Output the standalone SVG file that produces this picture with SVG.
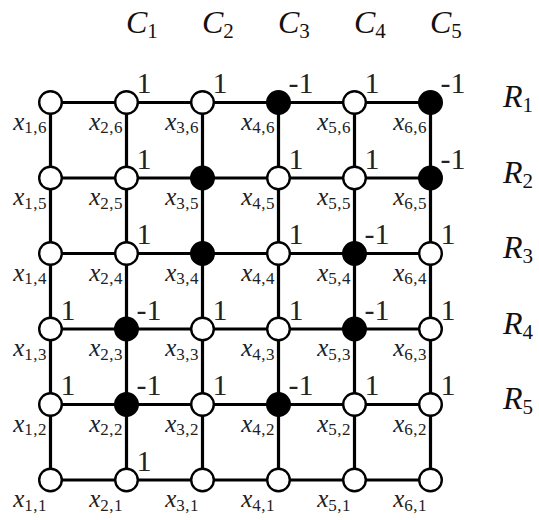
<svg xmlns="http://www.w3.org/2000/svg" width="539" height="520" viewBox="0 0 539 520">
  <style>
    .edge { stroke: #000; stroke-width: 3.2; fill: none; }
    .v { fill: #fff; stroke: #000; stroke-width: 2.4; }
    .v.on { fill: #000; }
    .var { font-family: "Liberation Serif", serif; font-style: italic; font-size: 25px; fill: #222; text-anchor: end; }
    .var tspan.s { font-style: normal; font-size: 17px; letter-spacing: 0.5px; }
    .w { font-family: "Liberation Serif", serif; font-size: 30px; fill: #222; }
    .hdr { font-family: "Liberation Serif", serif; font-style: italic; font-size: 32px; fill: #111; }
    .hdr tspan.s { font-style: normal; font-size: 21px; }
  </style>

  <!-- column and row headers -->
  <g id="headers">
    <text class="hdr" x="126" y="33">C<tspan class="s" dy="5">1</tspan></text>
    <text class="hdr" x="202" y="33">C<tspan class="s" dy="5">2</tspan></text>
    <text class="hdr" x="278" y="33">C<tspan class="s" dy="5">3</tspan></text>
    <text class="hdr" x="354" y="33">C<tspan class="s" dy="5">4</tspan></text>
    <text class="hdr" x="430" y="33">C<tspan class="s" dy="5">5</tspan></text>
    <text class="hdr" x="503" y="107">R<tspan class="s" dy="5">1</tspan></text>
    <text class="hdr" x="503" y="182.5">R<tspan class="s" dy="5">2</tspan></text>
    <text class="hdr" x="503" y="258">R<tspan class="s" dy="5">3</tspan></text>
    <text class="hdr" x="503" y="333.5">R<tspan class="s" dy="5">4</tspan></text>
    <text class="hdr" x="503" y="409">R<tspan class="s" dy="5">5</tspan></text>
  </g>

  <!-- grid edges -->
  <g id="connectors">
    <line class="edge" x1="50.5" y1="102.5" x2="430.5" y2="102.5"/>
    <line class="edge" x1="50.5" y1="178" x2="430.5" y2="178"/>
    <line class="edge" x1="50.5" y1="253.5" x2="430.5" y2="253.5"/>
    <line class="edge" x1="50.5" y1="329" x2="430.5" y2="329"/>
    <line class="edge" x1="50.5" y1="404.5" x2="430.5" y2="404.5"/>
    <line class="edge" x1="50.5" y1="480" x2="430.5" y2="480"/>
    <line class="edge" x1="50.5" y1="102.5" x2="50.5" y2="480"/>
    <line class="edge" x1="126.5" y1="102.5" x2="126.5" y2="480"/>
    <line class="edge" x1="202.5" y1="102.5" x2="202.5" y2="480"/>
    <line class="edge" x1="278.5" y1="102.5" x2="278.5" y2="480"/>
    <line class="edge" x1="354.5" y1="102.5" x2="354.5" y2="480"/>
    <line class="edge" x1="430.5" y1="102.5" x2="430.5" y2="480"/>
  </g>

  <!-- row j=6 -->
  <g id="x-1-6"><circle class="v" cx="50.5" cy="102.5" r="11.3"/><text class="var" x="47" y="129.5">x<tspan class="s" dy="3.5">1,6</tspan></text></g>
  <g id="x-2-6"><circle class="v" cx="126.5" cy="102.5" r="11.3"/><text class="var" x="123" y="129.5">x<tspan class="s" dy="3.5">2,6</tspan></text><text class="w" x="136.5" y="93">1</text></g>
  <g id="x-3-6"><circle class="v" cx="202.5" cy="102.5" r="11.3"/><text class="var" x="199" y="129.5">x<tspan class="s" dy="3.5">3,6</tspan></text><text class="w" x="212.5" y="93">1</text></g>
  <g id="x-4-6"><circle class="v on" cx="278.5" cy="102.5" r="11.3"/><text class="var" x="275" y="129.5">x<tspan class="s" dy="3.5">4,6</tspan></text><text class="w" x="288.5" y="93">-1</text></g>
  <g id="x-5-6"><circle class="v" cx="354.5" cy="102.5" r="11.3"/><text class="var" x="351" y="129.5">x<tspan class="s" dy="3.5">5,6</tspan></text><text class="w" x="364.5" y="93">1</text></g>
  <g id="x-6-6"><circle class="v on" cx="430.5" cy="102.5" r="11.3"/><text class="var" x="427" y="129.5">x<tspan class="s" dy="3.5">6,6</tspan></text><text class="w" x="440.5" y="93">-1</text></g>

  <!-- row j=5 -->
  <g id="x-1-5"><circle class="v" cx="50.5" cy="178" r="11.3"/><text class="var" x="47" y="205">x<tspan class="s" dy="3.5">1,5</tspan></text></g>
  <g id="x-2-5"><circle class="v" cx="126.5" cy="178" r="11.3"/><text class="var" x="123" y="205">x<tspan class="s" dy="3.5">2,5</tspan></text><text class="w" x="136.5" y="168.5">1</text></g>
  <g id="x-3-5"><circle class="v on" cx="202.5" cy="178" r="11.3"/><text class="var" x="199" y="205">x<tspan class="s" dy="3.5">3,5</tspan></text></g>
  <g id="x-4-5"><circle class="v" cx="278.5" cy="178" r="11.3"/><text class="var" x="275" y="205">x<tspan class="s" dy="3.5">4,5</tspan></text><text class="w" x="288.5" y="168.5">1</text></g>
  <g id="x-5-5"><circle class="v" cx="354.5" cy="178" r="11.3"/><text class="var" x="351" y="205">x<tspan class="s" dy="3.5">5,5</tspan></text><text class="w" x="364.5" y="168.5">1</text></g>
  <g id="x-6-5"><circle class="v on" cx="430.5" cy="178" r="11.3"/><text class="var" x="427" y="205">x<tspan class="s" dy="3.5">6,5</tspan></text><text class="w" x="440.5" y="168.5">-1</text></g>

  <!-- row j=4 -->
  <g id="x-1-4"><circle class="v" cx="50.5" cy="253.5" r="11.3"/><text class="var" x="47" y="280.5">x<tspan class="s" dy="3.5">1,4</tspan></text></g>
  <g id="x-2-4"><circle class="v" cx="126.5" cy="253.5" r="11.3"/><text class="var" x="123" y="280.5">x<tspan class="s" dy="3.5">2,4</tspan></text><text class="w" x="136.5" y="244">1</text></g>
  <g id="x-3-4"><circle class="v on" cx="202.5" cy="253.5" r="11.3"/><text class="var" x="199" y="280.5">x<tspan class="s" dy="3.5">3,4</tspan></text></g>
  <g id="x-4-4"><circle class="v" cx="278.5" cy="253.5" r="11.3"/><text class="var" x="275" y="280.5">x<tspan class="s" dy="3.5">4,4</tspan></text><text class="w" x="288.5" y="244">1</text></g>
  <g id="x-5-4"><circle class="v on" cx="354.5" cy="253.5" r="11.3"/><text class="var" x="351" y="280.5">x<tspan class="s" dy="3.5">5,4</tspan></text><text class="w" x="364.5" y="244">-1</text></g>
  <g id="x-6-4"><circle class="v" cx="430.5" cy="253.5" r="11.3"/><text class="var" x="427" y="280.5">x<tspan class="s" dy="3.5">6,4</tspan></text><text class="w" x="440.5" y="244">1</text></g>

  <!-- row j=3 -->
  <g id="x-1-3"><circle class="v" cx="50.5" cy="329" r="11.3"/><text class="var" x="47" y="356">x<tspan class="s" dy="3.5">1,3</tspan></text><text class="w" x="60.5" y="319.5">1</text></g>
  <g id="x-2-3"><circle class="v on" cx="126.5" cy="329" r="11.3"/><text class="var" x="123" y="356">x<tspan class="s" dy="3.5">2,3</tspan></text><text class="w" x="136.5" y="319.5">-1</text></g>
  <g id="x-3-3"><circle class="v" cx="202.5" cy="329" r="11.3"/><text class="var" x="199" y="356">x<tspan class="s" dy="3.5">3,3</tspan></text><text class="w" x="212.5" y="319.5">1</text></g>
  <g id="x-4-3"><circle class="v" cx="278.5" cy="329" r="11.3"/><text class="var" x="275" y="356">x<tspan class="s" dy="3.5">4,3</tspan></text><text class="w" x="288.5" y="319.5">1</text></g>
  <g id="x-5-3"><circle class="v on" cx="354.5" cy="329" r="11.3"/><text class="var" x="351" y="356">x<tspan class="s" dy="3.5">5,3</tspan></text><text class="w" x="364.5" y="319.5">-1</text></g>
  <g id="x-6-3"><circle class="v" cx="430.5" cy="329" r="11.3"/><text class="var" x="427" y="356">x<tspan class="s" dy="3.5">6,3</tspan></text><text class="w" x="440.5" y="319.5">1</text></g>

  <!-- row j=2 -->
  <g id="x-1-2"><circle class="v" cx="50.5" cy="404.5" r="11.3"/><text class="var" x="47" y="431.5">x<tspan class="s" dy="3.5">1,2</tspan></text><text class="w" x="60.5" y="395">1</text></g>
  <g id="x-2-2"><circle class="v on" cx="126.5" cy="404.5" r="11.3"/><text class="var" x="123" y="431.5">x<tspan class="s" dy="3.5">2,2</tspan></text><text class="w" x="136.5" y="395">-1</text></g>
  <g id="x-3-2"><circle class="v" cx="202.5" cy="404.5" r="11.3"/><text class="var" x="199" y="431.5">x<tspan class="s" dy="3.5">3,2</tspan></text><text class="w" x="212.5" y="395">1</text></g>
  <g id="x-4-2"><circle class="v on" cx="278.5" cy="404.5" r="11.3"/><text class="var" x="275" y="431.5">x<tspan class="s" dy="3.5">4,2</tspan></text><text class="w" x="288.5" y="395">-1</text></g>
  <g id="x-5-2"><circle class="v" cx="354.5" cy="404.5" r="11.3"/><text class="var" x="351" y="431.5">x<tspan class="s" dy="3.5">5,2</tspan></text><text class="w" x="364.5" y="395">1</text></g>
  <g id="x-6-2"><circle class="v" cx="430.5" cy="404.5" r="11.3"/><text class="var" x="427" y="431.5">x<tspan class="s" dy="3.5">6,2</tspan></text><text class="w" x="440.5" y="395">1</text></g>

  <!-- row j=1 -->
  <g id="x-1-1"><circle class="v" cx="50.5" cy="480" r="11.3"/><text class="var" x="47" y="507">x<tspan class="s" dy="3.5">1,1</tspan></text></g>
  <g id="x-2-1"><circle class="v" cx="126.5" cy="480" r="11.3"/><text class="var" x="123" y="507">x<tspan class="s" dy="3.5">2,1</tspan></text><text class="w" x="136.5" y="470.5">1</text></g>
  <g id="x-3-1"><circle class="v" cx="202.5" cy="480" r="11.3"/><text class="var" x="199" y="507">x<tspan class="s" dy="3.5">3,1</tspan></text></g>
  <g id="x-4-1"><circle class="v" cx="278.5" cy="480" r="11.3"/><text class="var" x="275" y="507">x<tspan class="s" dy="3.5">4,1</tspan></text></g>
  <g id="x-5-1"><circle class="v" cx="354.5" cy="480" r="11.3"/><text class="var" x="351" y="507">x<tspan class="s" dy="3.5">5,1</tspan></text></g>
  <g id="x-6-1"><circle class="v" cx="430.5" cy="480" r="11.3"/><text class="var" x="427" y="507">x<tspan class="s" dy="3.5">6,1</tspan></text></g>
</svg>
